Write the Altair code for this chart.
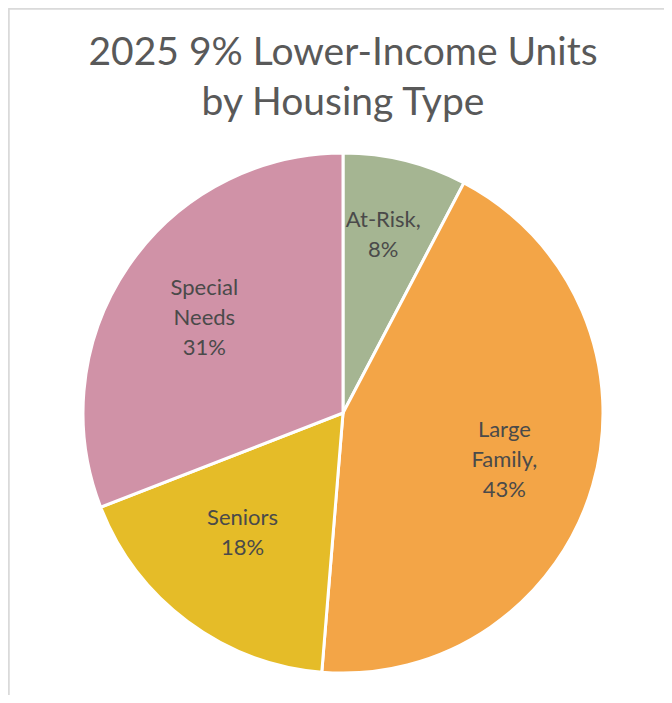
import altair as alt
import pandas as pd

categories = ["At-Risk", "Large Family", "Seniors", "Special Needs"]
values = [7.7, 43.6, 17.8, 30.9]
pct_labels = ["8%", "43%", "18%", "31%"]
label_lines = [["At-Risk,", "8%"], ["Large", "Family,", "43%"], ["Seniors", "18%"], ["Special", "Needs", "31%"]]
colors = ["#a5b592", "#f3a547", "#e5bc28", "#d092a7"]
title_lines = ["2025 9% Lower-Income Units", "by Housing Type"]

df = pd.DataFrame({
    "category": categories,
    "value": values,
    "order": list(range(len(categories))),
    "label": label_lines,
})

W, H = 656, 687
CX, CY, R = 335, 405, 260
FONT = "Lato"

base = alt.Chart(df).encode(
    theta=alt.Theta("value:Q", stack=True),
    order=alt.Order("order:Q"),
)

arcs = base.mark_arc(outerRadius=R, stroke="white", strokeWidth=3).encode(
    x=alt.value(CX), y=alt.value(CY),
    color=alt.Color("category:N", scale=alt.Scale(domain=categories, range=colors), legend=None),
)

labels = base.mark_text(radius=168, dy=-30, font=FONT, fontSize=22, color="#4a4a4a",
                        lineHeight=30, align="center", baseline="middle").encode(
    x=alt.value(CX), y=alt.value(CY),
    text=alt.Text("label"),
)

title_df = pd.DataFrame({"t": [title_lines]})
title = alt.Chart(title_df).mark_text(font=FONT, fontSize=39, color="#595959",
                                      lineHeight=50, align="center", baseline="alphabetic").encode(
    x=alt.value(CX), y=alt.value(57), text=alt.Text("t"),
)

border_df = pd.DataFrame({"k": [0]})
left_border = alt.Chart(border_df).mark_rule(color="#d9d9d9", strokeWidth=1.5).encode(
    x=alt.value(1), y=alt.value(0), y2=alt.value(H))
top_border = alt.Chart(border_df).mark_rule(color="#d9d9d9", strokeWidth=1.5).encode(
    x=alt.value(1), x2=alt.value(W), y=alt.value(1))

chart = alt.layer(arcs, labels, title, left_border, top_border).properties(
    width=W, height=H, autosize=alt.AutoSizeParams(type="none"), padding=0,
).configure_view(stroke=None).configure(background="white")

chart.save("out.html", embed_options={"renderer": "svg", "actions": False})
